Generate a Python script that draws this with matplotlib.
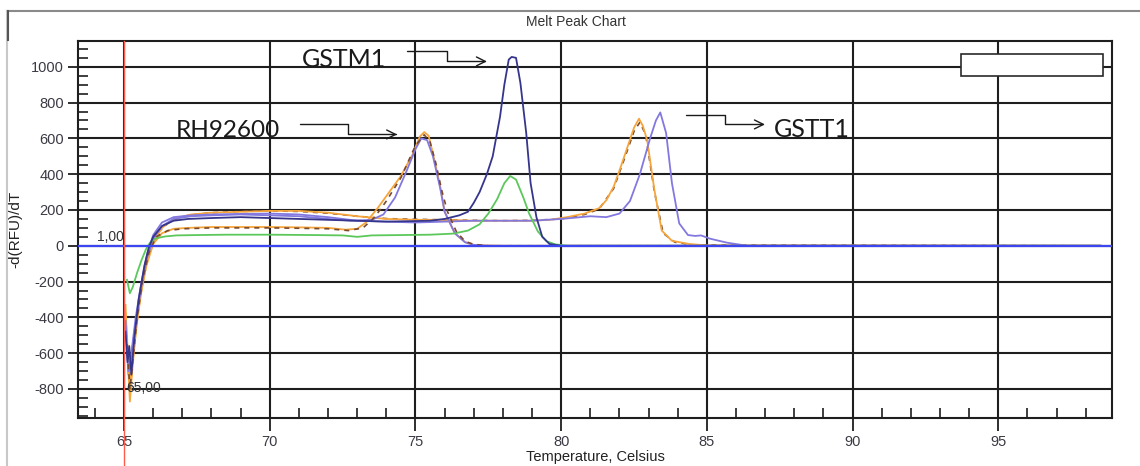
import matplotlib
matplotlib.use('Agg')
import matplotlib.pyplot as plt
from matplotlib.lines import Line2D
from matplotlib.patches import Rectangle, FancyArrowPatch
from matplotlib.path import Path
from matplotlib.ticker import MultipleLocator

plt.rcParams['axes.unicode_minus'] = False

# 곡선 데이터 (온도, -d(RFU)/dT) - 그림에서 읽은 값
gstm1_t = [65.05, 65.12, 65.18, 65.25, 65.35, 65.5, 65.7, 65.85, 66.0, 66.3, 66.7, 67.2, 68.0, 69.0, 70.0,
           71.0, 72.0, 73.0, 74.0, 75.0, 75.5, 76.0, 76.5, 76.8, 77.0, 77.2, 77.45, 77.65, 77.9, 78.05, 78.2,
           78.3, 78.45, 78.6, 78.8, 78.95, 79.15, 79.35, 79.6, 80.0, 81.0, 98.5]
gstm1_y = [-480, -650, -560, -720, -520, -300, -110, -10, 50, 110, 140, 150, 155, 160, 155,
           150, 145, 140, 135, 138, 140, 150, 170, 190, 240, 300, 400, 500, 720, 900, 1040,
           1055, 1050, 910, 630, 350, 160, 50, 10, 0, 0, 0]

green_t = [65.1, 65.2, 65.3, 65.45, 65.6, 65.75, 65.9, 66.1, 66.4, 66.8, 67.5, 68.5, 70.0, 71.5, 72.5,
           73.0, 73.5, 74.5, 75.5, 76.3, 76.8, 77.2, 77.5, 77.8, 78.05, 78.25, 78.45, 78.7, 78.9, 79.2,
           79.5, 79.8, 80.2, 81.0, 98.5]
green_y = [-190, -265, -230, -150, -80, -20, 20, 42, 52, 58, 60, 62, 62, 60, 58,
           50, 58, 60, 62, 68, 85, 120, 180, 260, 350, 390, 370, 270, 180, 80,
           25, 8, 0, 0, 0]

rh_orange_t = [65.05, 65.12, 65.2, 65.28, 65.4, 65.55, 65.75, 66.0, 66.3, 66.7, 67.2, 68.0, 69.0, 70.0,
               71.0, 72.0, 72.6, 73.0, 73.3, 73.7, 74.1, 74.5, 74.9, 75.15, 75.3, 75.45, 75.6, 75.85,
               76.0, 76.35, 76.7, 77.0, 77.4, 78.0, 98.5]
rh_orange_y = [-330, -600, -870, -700, -480, -290, -120, 10, 70, 95, 100, 105, 105, 105,
               103, 100, 90, 95, 130, 210, 300, 390, 510, 610, 635, 615, 515, 330,
               190, 70, 20, 5, 2, 0, 0]

rh_violet_t = [65.05, 65.15, 65.25, 65.4, 65.6, 65.8, 66.0, 66.3, 66.7, 67.3, 68.0, 69.0, 70.0, 71.0,
               72.0, 72.8, 73.5, 73.9, 74.3, 74.7, 75.0, 75.2, 75.4, 75.6, 75.85, 76.0, 76.35, 76.7,
               77.0, 77.5, 98.5]
rh_violet_y = [-420, -700, -620, -430, -220, -60, 40, 110, 150, 165, 170, 175, 170, 165,
               150, 140, 145, 175, 270, 420, 540, 600, 590, 500, 320, 190, 70, 20,
               5, 0, 0]

rh_brown_t = [65.1, 65.2, 65.3, 65.45, 65.65, 65.85, 66.1, 66.5, 67.0, 68.0, 69.0, 70.0, 71.0, 72.0,
              72.7, 73.2, 73.6, 74.0, 74.5, 75.0, 75.3, 75.5, 75.7, 75.9, 76.1, 76.4, 76.7, 77.0,
              77.5, 98.5]
rh_brown_y = [-550, -800, -640, -400, -180, -40, 50, 85, 95, 100, 100, 100, 98, 95,
              85, 100, 160, 250, 380, 560, 620, 580, 460, 310, 190, 80, 25, 8,
              0, 0]

gstt1_orange_t = [65.05, 65.15, 65.22, 65.3, 65.45, 65.6, 65.8, 66.0, 66.3, 66.7, 67.3, 68.0, 69.0, 70.0,
                  71.0, 72.0, 73.0, 74.0, 75.0, 76.0, 77.0, 78.0, 79.0, 79.6, 80.2, 80.8, 81.3, 81.55,
                  81.8, 82.0, 82.25, 82.5, 82.67, 82.8, 82.95, 83.2, 83.45, 83.8, 84.4, 85.0, 98.5]
gstt1_orange_y = [-380, -650, -780, -640, -420, -250, -80, 20, 100, 150, 175, 185, 190, 195,
                  195, 185, 165, 150, 145, 145, 140, 140, 140, 145, 160, 180, 210, 255,
                  330, 420, 540, 660, 710, 670, 590, 310, 85, 28, 10, 2, 0]

gstt1_violet_t = [65.05, 65.15, 65.25, 65.4, 65.6, 65.8, 66.0, 66.3, 66.7, 67.3, 68.0, 69.0, 70.0, 71.0,
                  72.0, 73.0, 74.0, 75.0, 76.0, 77.0, 78.0, 79.0, 80.0, 81.0, 81.55, 82.0, 82.36, 82.7,
                  83.05, 83.25, 83.4, 83.6, 83.8, 84.05, 84.35, 84.6, 84.8, 85.1, 85.7, 86.4, 98.5]
gstt1_violet_y = [-450, -720, -600, -400, -200, -40, 60, 130, 160, 170, 175, 178, 180, 175,
                  160, 140, 135, 130, 135, 140, 140, 140, 150, 165, 160, 180, 250, 400,
                  600, 700, 745, 630, 350, 125, 60, 55, 58, 40, 17, 0, 0]

gstt1_brown_t = [65.1, 65.2, 65.3, 65.5, 65.7, 65.9, 66.2, 66.6, 67.2, 68.0, 69.0, 70.0, 71.0, 72.0,
                 73.0, 74.0, 75.0, 76.0, 77.0, 78.0, 79.0, 80.0, 80.8, 81.3, 81.8, 82.2, 82.5, 82.7,
                 82.9, 83.2, 83.5, 83.9, 84.5, 98.5]
gstt1_brown_y = [-500, -760, -600, -330, -130, -10, 80, 140, 170, 185, 192, 195, 192, 182,
                 165, 152, 148, 145, 142, 140, 142, 150, 175, 205, 320, 500, 640, 690,
                 620, 300, 70, 20, 5, 0]

x_ticks = [65, 70, 75, 80, 85, 90, 95]
y_ticks = [-800, -600, -400, -200, 0, 200, 400, 600, 800, 1000]

# 주석 (라벨, 글자 위치, 화살표 꺾은선)
labels = ['GSTM1', 'RH92600', 'GSTT1']
label_pos = [(72.55, 1042), (68.55, 644), (88.6, 650)]
label_size = [18, 17.5, 18]
arrow_paths = [
    [(74.71, 1086), (76.08, 1086), (76.08, 1030), (77.45, 1030)],
    [(71.04, 678), (72.68, 678), (72.68, 622), (74.37, 622)],
    [(84.28, 728), (85.62, 728), (85.62, 678), (86.99, 678)],
]

W, H = 1140, 466
fig = plt.figure(figsize=(W / 100, H / 100), dpi=100)
ax = fig.add_axes([78 / W, 1 - 418 / H, (1112 - 78) / W, (418 - 41) / H])

navy = '#35358c'
green = '#5cc85c'
orange = '#f5a53c'
violet = '#8278e0'
brown = '#7a4a2e'

ax.plot(gstt1_orange_t, gstt1_orange_y, color=orange, lw=1.3, zorder=3)
ax.plot(gstt1_brown_t, gstt1_brown_y, color=brown, lw=1.2, ls=(0, (3, 3)), zorder=2.9)
ax.plot(gstt1_violet_t, gstt1_violet_y, color=violet, lw=1.3, zorder=3)
ax.plot(rh_orange_t, rh_orange_y, color=orange, lw=1.3, zorder=3)
ax.plot(rh_violet_t, rh_violet_y, color=violet, lw=1.3, zorder=3)
ax.plot(green_t, green_y, color=green, lw=1.3, zorder=3)
ax.plot(rh_brown_t, rh_brown_y, color=brown, lw=1.2, ls=(0, (3, 3)), zorder=3.5)
ax.plot(gstm1_t, gstm1_y, color=navy, lw=1.3, zorder=3.6)

# 기준선
ax.axhline(0, color='#3c46f0', lw=1.6, zorder=4)
ax.plot([65, 65], [-1235, 1144], color='#ff5a4a', lw=1.0, zorder=5, clip_on=False)

ax.set_xlim(63.42, 98.9)
ax.set_ylim(-962, 1144)
ax.set_xticks(x_ticks)
ax.set_yticks(y_ticks)
ax.xaxis.set_minor_locator(MultipleLocator(1))
ax.yaxis.set_minor_locator(MultipleLocator(50))
ax.grid(True, which='major', color='#1e1e1e', lw=1.5, zorder=1)
ax.set_axisbelow(True)
for s in ax.spines.values():
    s.set_color('#1e1e1e')
    s.set_linewidth(1.5)
ax.tick_params(which='major', direction='out', length=7, width=1.3, color='#1e1e1e',
               labelsize=10.5, labelcolor='#3a3a44', pad=3)
ax.tick_params(which='minor', direction='in', length=7, width=1.2, color='#1e1e1e')
ax.tick_params(axis='x', which='major', length=9, pad=3)
for lab in ax.get_xticklabels() + ax.get_yticklabels():
    lab.set_family('Liberation Sans')

ax.set_ylabel('-d(RFU)/dT', fontsize=11, family='Liberation Sans', color='#222222')
ax.yaxis.set_label_coords(-0.054, 0.5)
ax.set_xlabel('Temperature, Celsius', fontsize=10.5, family='Liberation Sans', color='#222222')
ax.xaxis.set_label_coords(0.5, -0.086)

ax.text(64.55, 50, '1,00', fontsize=10, family='Liberation Sans', color='#333333',
        ha='center', va='center', zorder=6)
ax.text(65.68, -795, '65,00', fontsize=10, family='Liberation Sans', color='#333333',
        ha='center', va='center', zorder=6)

# 범례 상자 (비어 있음)
ax.add_patch(Rectangle((93.71, 947), 98.58 - 93.71, 1070 - 947, facecolor='white',
                       edgecolor='#2a2a2a', lw=1.2, zorder=6))

for lab, pos, fs, path in zip(labels, label_pos, label_size, arrow_paths):
    ax.text(pos[0], pos[1], lab, fontsize=fs, family='Lato', color='#1a1a1a',
            ha='center', va='center', zorder=7)
    codes = [Path.MOVETO] + [Path.LINETO] * (len(path) - 1)
    ax.add_patch(FancyArrowPatch(path=Path(path, codes), arrowstyle='->', mutation_scale=16,
                                 color='#1a1a1a', lw=1.0, zorder=7))

fig.text(576 / W, 1 - 22 / H, 'Melt Peak Chart', fontsize=10, family='Liberation Sans',
         color='#333333', ha='center', va='center')

# 바깥 테두리
fig.add_artist(Line2D([7 / W, 1], [1 - 11 / H] * 2, color='#8a8a8a', lw=1.5))
fig.add_artist(Line2D([7 / W] * 2, [0, 1 - 11 / H], color='#c8c8c8', lw=1.5))
fig.add_artist(Line2D([7.5 / W] * 2, [1 - 40 / H, 1 - 11 / H], color='#555555', lw=1.5))

fig.savefig('out.png', dpi=100)
